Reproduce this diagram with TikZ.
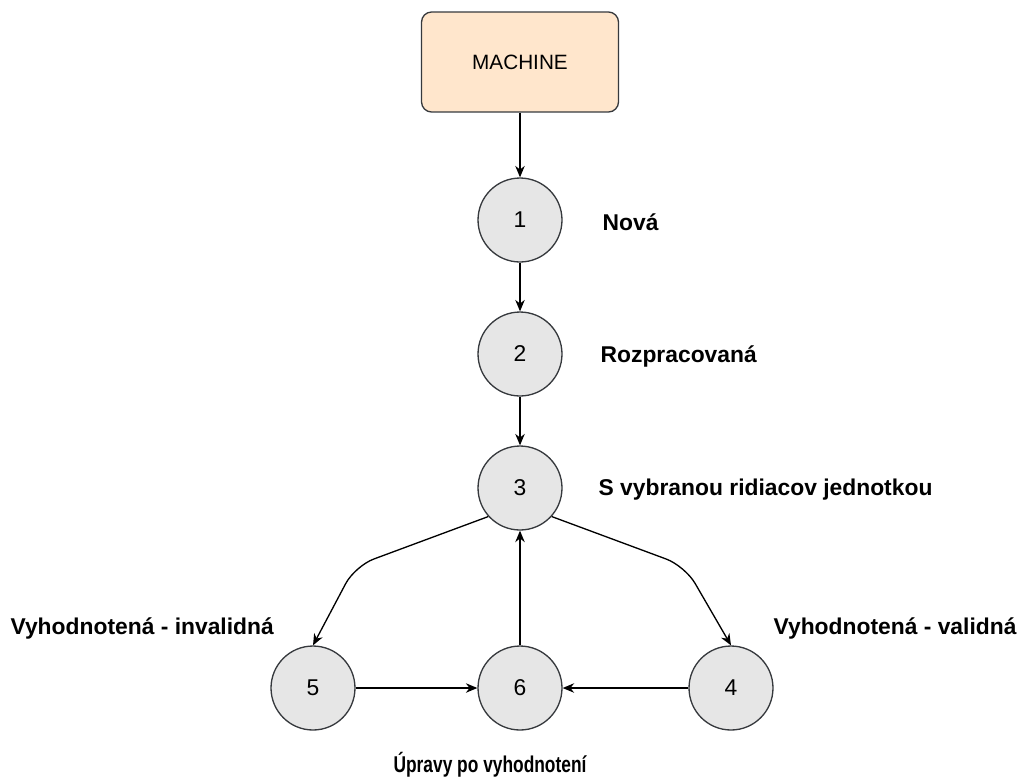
\documentclass[tikz,border=0pt]{standalone}
\usepackage{fontspec}
\setmainfont{Liberation Sans}
\usetikzlibrary{arrows.meta,positioning}

\definecolor{stavfill}{HTML}{E6E6E6}
\definecolor{machinefill}{HTML}{FFE6CC}
\definecolor{okraj}{HTML}{36393D}

\tikzset{
  stav/.style={circle,draw=okraj,fill=stavfill,minimum size=1.68cm,inner sep=0pt,font=\fontsize{13}{15}\selectfont},
  stavlabel/.style={font=\fontsize{13}{15}\selectfont\bfseries,inner sep=0pt},
  machinebox/.style={rectangle,rounded corners=2mm,draw=okraj,fill=machinefill,minimum width=3.94cm,minimum height=2cm,font=\fontsize{11.8}{13}\selectfont}
}

\begin{document}
\begin{tikzpicture}[x=0.02cm,y=-0.02cm,>={Stealth[length=2.3mm,width=1.9mm]},line width=0.75pt]
  \useasboundingbox (0,0) rectangle (1024,778);

  \node [machinebox] (machine) at (520,62) {MACHINE};

  % stavy
  \node [stav] (s1) at (520,220) {1};
  \node [stav] (s2) at (520,354) {2};
  \node [stav] (s3) at (520,488) {3};
  \node [stav] (s5) at (313,688) {5};
  \node [stav] (s6) at (520,688) {6};
  \node [stav] (s4) at (731,688) {4};

  % popisy
  \node [stavlabel,anchor=west] (lab1) at (602,222) {Nová};
  \node [stavlabel,anchor=west] (lab2) at (600,356) {Rozpracovaná};
  \node [stavlabel,anchor=west] (lab3) at (598,490) {S vybranou ridiacov jednotkou};
  \node [stavlabel,anchor=west] (lab5) at (10,628) {Vyhodnotená - invalidná};
  \node [stavlabel,anchor=west] (lab4) at (773,628) {Vyhodnotená - validná};
  \node [stavlabel] (lab6) at (490,765) {\scalebox{0.76}[1]{Úpravy po vyhodnotení}};

  \draw[->] (machine) -- (s1);
  \draw[->] (s1) -- (s2);
  \draw[->] (s2) -- (s3);
  \draw[->, rounded corners=4mm] (s3.222) -- (355,566) -- (s5.north);
  \draw[->, rounded corners=4mm] (s3.318) -- (685,566) -- (s4.north);
  \draw[->] (s5) -- (s6);
  \draw[->] (s4) -- (s6);
  \draw[->] (s6) -- (s3);
\end{tikzpicture}
\end{document}
